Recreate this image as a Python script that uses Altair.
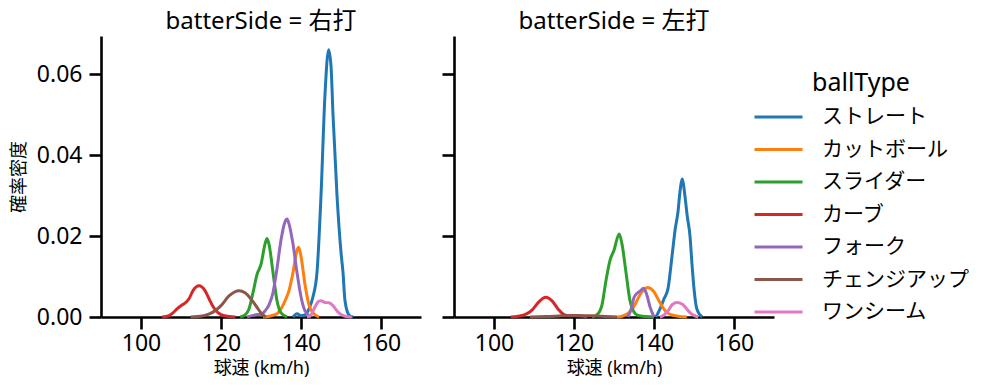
import altair as alt
import pandas as pd

FONT = "Noto Sans, Noto Sans CJK JP"

BALL_TYPES = ["ストレート", "カットボール", "スライダー", "カーブ", "フォーク", "チェンジアップ", "ワンシーム"]
COLORS = ["#1f77b4", "#ff7f0e", "#2ca02c", "#d62728", "#9467bd", "#8c564b", "#e377c2"]
SIDES = ["右打", "左打"]

# ---- 右打 (right-handed batters): KDE curves ----
R_STRAIGHT_X = [138, 139, 140, 141, 142, 143, 144, 145, 146, 146.9, 147.5, 148, 149, 150, 150.5, 151, 152, 153]
R_STRAIGHT_Y = [0.0, 0.0008, 0.0003, 0.0005, 0.002, 0.005, 0.011, 0.03, 0.055, 0.066, 0.062, 0.05, 0.03, 0.016, 0.011, 0.004, 0.0005, 0.0]
R_CUT_X = [130.5, 132, 134, 135, 136, 137, 138, 139, 139.4, 140, 141, 142, 143, 144.5]
R_CUT_Y = [0.0, 0.0002, 0.0008, 0.002, 0.004, 0.0065, 0.011, 0.0165, 0.0172, 0.015, 0.008, 0.003, 0.001, 0.0]
R_SLIDER_X = [124.8, 126, 127, 128, 129, 130, 131, 131.5, 132, 133, 134, 135, 136.5]
R_SLIDER_Y = [0.0, 0.0005, 0.002, 0.006, 0.0105, 0.013, 0.018, 0.0194, 0.018, 0.011, 0.004, 0.001, 0.0]
R_CURVE_X = [105.3, 107, 108, 109, 110, 111, 112, 113, 114.5, 116, 117, 118, 119, 120, 122, 123.6]
R_CURVE_Y = [0.0, 0.0003, 0.001, 0.002, 0.0028, 0.0034, 0.0045, 0.0065, 0.0077, 0.0065, 0.0045, 0.0026, 0.0013, 0.0006, 0.0001, 0.0]
R_FORK_X = [126.5, 128, 129, 130, 131, 132, 133, 134, 135, 136, 136.5, 137, 138, 139, 140, 141, 142.5]
R_FORK_Y = [0.0, 0.0004, 0.0006, 0.0006, 0.0015, 0.003, 0.006, 0.012, 0.019, 0.0235, 0.0242, 0.023, 0.018, 0.011, 0.005, 0.0015, 0.0]
R_CHANGE_X = [112.4, 114, 116, 118, 120, 122, 124.5, 126, 128, 129, 130, 131.2]
R_CHANGE_Y = [0.0, 0.0001, 0.0004, 0.0012, 0.0028, 0.0052, 0.0065, 0.006, 0.0038, 0.0024, 0.001, 0.0]
R_ONESEAM_X = [141.5, 142.5, 143.5, 144.5, 145, 146, 147, 148, 149, 150, 151, 152.7]
R_ONESEAM_Y = [0.0, 0.0005, 0.0025, 0.0039, 0.004, 0.0036, 0.0035, 0.0028, 0.0015, 0.0006, 0.0002, 0.0]

# ---- 左打 (left-handed batters) ----
L_STRAIGHT_X = [140.5, 141.5, 142.5, 143.5, 144.5, 145.3, 146, 146.5, 147.1, 147.6, 148.3, 149, 149.5, 150, 150.7, 152]
L_STRAIGHT_Y = [0.0, 0.002, 0.0045, 0.007, 0.015, 0.0217, 0.026, 0.031, 0.0341, 0.031, 0.025, 0.02, 0.013, 0.007, 0.002, 0.0]
L_CUT_X = [130.7, 132, 133.5, 135, 136.5, 138.4, 140, 141.5, 143, 144.5, 146, 148.2]
L_CUT_Y = [0.0, 0.0002, 0.0009, 0.0026, 0.0055, 0.0073, 0.0062, 0.0035, 0.0013, 0.0005, 0.0002, 0.0]
L_SLIDER_X = [124.5, 126, 127, 128, 129, 130, 131.3, 132, 133, 134, 135, 136, 138, 140]
L_SLIDER_Y = [0.0, 0.0008, 0.003, 0.009, 0.014, 0.0165, 0.0205, 0.018, 0.011, 0.004, 0.0012, 0.0004, 0.0001, 0.0]
L_CURVE_X = [104.2, 106, 108, 109.5, 111, 112.9, 114.5, 116, 117.5, 119, 121, 123.3]
L_CURVE_Y = [0.0, 0.0002, 0.0007, 0.0017, 0.0035, 0.0049, 0.004, 0.002, 0.0006, 0.0003, 0.0003, 0.0]
L_FORK_X = [133.5, 134.3, 135, 135.6, 136.5, 137.4, 138.2, 139, 140]
L_FORK_Y = [0.0, 0.002, 0.0048, 0.0057, 0.0064, 0.0071, 0.0055, 0.0025, 0.0]
L_CHANGE_X = [109, 113, 117, 120, 124, 127, 130.7]
L_CHANGE_Y = [0.0, 0.0001, 0.0003, 0.0004, 0.0003, 0.0002, 0.0]
L_ONESEAM_X = [141.5, 142.5, 143.5, 144.5, 145.7, 147, 148, 149, 150, 151.1]
L_ONESEAM_Y = [0.0, 0.0005, 0.0015, 0.003, 0.0036, 0.0032, 0.0022, 0.0011, 0.0004, 0.0]

SERIES = {
    "右打": [(R_STRAIGHT_X, R_STRAIGHT_Y), (R_CUT_X, R_CUT_Y), (R_SLIDER_X, R_SLIDER_Y),
             (R_CURVE_X, R_CURVE_Y), (R_FORK_X, R_FORK_Y), (R_CHANGE_X, R_CHANGE_Y),
             (R_ONESEAM_X, R_ONESEAM_Y)],
    "左打": [(L_STRAIGHT_X, L_STRAIGHT_Y), (L_CUT_X, L_CUT_Y), (L_SLIDER_X, L_SLIDER_Y),
             (L_CURVE_X, L_CURVE_Y), (L_FORK_X, L_FORK_Y), (L_CHANGE_X, L_CHANGE_Y),
             (L_ONESEAM_X, L_ONESEAM_Y)],
}

rows = []
for side in SIDES:
    for bt, (xs, ys) in zip(BALL_TYPES, SERIES[side]):
        for i, (x, y) in enumerate(zip(xs, ys)):
            rows.append({"batterSide": side, "ballType": bt, "speed": x, "density": y, "order": i})
df = pd.DataFrame(rows)

color = alt.Color(
    "ballType:N",
    scale=alt.Scale(domain=BALL_TYPES, range=COLORS),
    legend=alt.Legend(
        title="ballType", orient="none", legendX=652, legendY=35,
        symbolType="stroke", symbolSize=2304, symbolStrokeWidth=3,
        labelFontSize=21, titleFontSize=25, titleFontWeight="normal",
        labelFont=FONT, titleFont=FONT, labelColor="black", titleColor="black",
        rowPadding=8.5, titlePadding=9, clipHeight=24,
        labelOffset=18, titleAnchor="middle", labelLimit=300, padding=0,
    ),
)


def panel(side, first):
    yaxis = alt.Axis(
        values=[0, 0.02, 0.04, 0.06], format=".2f", title="確率密度" if first else None,
        labels=first, grid=False, domainColor="black", domainWidth=2.6,
        tickColor="black", tickWidth=2.6, tickSize=12, labelFontSize=23,
        titleFontSize=18, titleFontWeight="normal", labelFont=FONT, titleFont=FONT,
        labelColor="black", titleColor="black", titlePadding=8, labelPadding=7,
    )
    xaxis = alt.Axis(
        values=[100, 120, 140, 160], title="球速 (km/h)", grid=False, domainColor="black",
        domainWidth=2.6, tickColor="black", tickWidth=2.6, tickSize=12, labelFontSize=23,
        titleFontSize=18, titleFontWeight="normal", labelFont=FONT, titleFont=FONT,
        labelColor="black", titleColor="black", labelPadding=3, titlePadding=4,
    )
    return (
        alt.Chart(df[df.batterSide == side])
        .mark_line(strokeWidth=3, interpolate="monotone")
        .encode(
            x=alt.X("speed:Q", scale=alt.Scale(domain=[90, 170], nice=False, zero=False), axis=xaxis),
            y=alt.Y("density:Q", scale=alt.Scale(domain=[0, 0.0694], nice=False), axis=yaxis),
            color=color,
            detail="ballType:N",
            order="order:Q",
        )
        .properties(
            width=320, height=281,
            title=alt.TitleParams(f"batterSide = {side}", fontSize=24, fontWeight="normal",
                                  font=FONT, anchor="middle", offset=2, color="black"),
        )
    )


chart = (
    alt.hconcat(panel("右打", True), panel("左打", False), spacing=19)
    .configure_view(stroke=None)
    .properties(padding={"left": 2, "top": 2, "right": 0, "bottom": 0})
)

chart.save("out.html", embed_options={"renderer": "svg", "actions": False})
